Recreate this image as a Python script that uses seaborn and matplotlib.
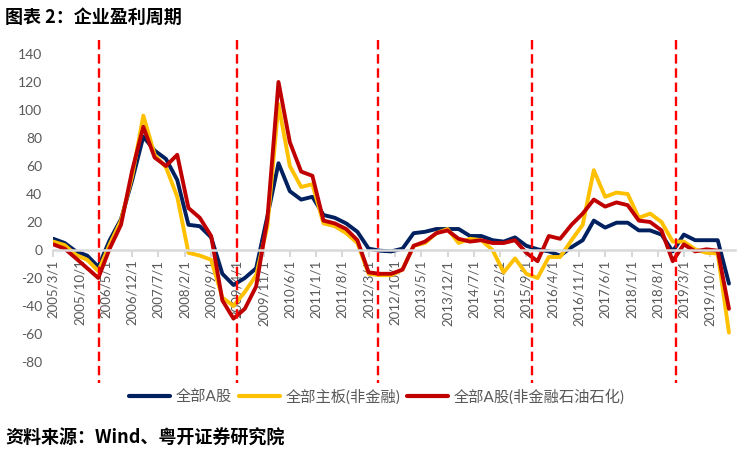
import pandas as pd
import matplotlib
matplotlib.use('Agg')
import matplotlib.pyplot as plt
import seaborn as sns

# 季度数据 2005Q1 - 2020Q1
dates = pd.date_range('2005-03-01', periods=61, freq='3MS')

all_a = [8, 5, -1, -4, -12, 7, 22, 50, 81, 71,
         65, 50, 18, 17, 9, -17, -25, -20, -13, 24,
         62, 42, 36, 38, 25, 23, 19, 13, 1, -0.5,
         -1, 1, 12, 13, 15, 15, 15, 10, 10, 7,
         6, 9, 3, 0.5, -1, -4, 2, 7, 21, 16,
         19.5, 19.5, 14, 14, 11, -1, 11, 7, 7, 7,
         -24]
main_board = [6, 3.5, -3.5, -7, -15, 4, 21, 53, 96, 68,
              59, 38, -2, -4, -7, -34, -40, -30, -18, 17,
              104, 60, 45, 47, 19, 17, 12, 5, -17, -18,
              -18, -14, 3, 5, 12, 15, 5, 8, 7, 0,
              -16, -6, -17, -20, -5, -5, 7, 18, 57, 38,
              41, 40, 23, 26, 20, 6, 6, 0.5, -2, -2.5,
              -59]
all_a_ex = [4, 1, -6, -13, -20, 1, 18, 57, 88, 66,
            60, 68, 30, 23, 10, -36, -49, -42, -26, 22,
            120, 77, 56, 53, 21, 19, 15, 7, -16, -17,
            -17, -14, 3, 6, 12, 14, 8, 6, 7, 5,
            5, 7, -2, -8, 10, 8, 18, 26, 36, 31,
            34, 32, 21, 20, 14, -8, 4, -1, 0.5, -0.5,
            -42]

series_names = ['全部A股', '全部主板(非金融)', '全部A股(非金融石油石化)']
colors = ['#002060', '#FFC000', '#C00000']

tick_labels = ['2005/3/1', '2005/10/1', '2006/5/1', '2006/12/1', '2007/7/1',
               '2008/2/1', '2008/9/1', '2009/4/1', '2009/11/1', '2010/6/1',
               '2011/1/1', '2011/8/1', '2012/3/1', '2012/10/1', '2013/5/1',
               '2013/12/1', '2014/7/1', '2015/2/1', '2015/9/1', '2016/4/1',
               '2016/11/1', '2017/6/1', '2018/1/1', '2018/8/1', '2019/3/1',
               '2019/10/1']
y_ticks = [-80, -60, -40, -20, 0, 20, 40, 60, 80, 100, 120, 140]

# 周期分界线
cycle_dates = ['2006-03-10', '2009-04-01', '2012-05-18', '2015-10-20', '2018-12-25']

df = pd.DataFrame({'date': dates, series_names[0]: all_a,
                   series_names[1]: main_board, series_names[2]: all_a_ex})
long = df.melt(id_vars='date', var_name='series', value_name='value')

sns.set_theme(style='white')
plt.rcParams['font.family'] = ['Lato', 'Noto Sans CJK SC', 'DejaVu Sans']
plt.rcParams['axes.unicode_minus'] = False

fig = plt.figure(figsize=(7.5, 4.57), dpi=100)
ax = fig.add_axes([53.3 / 750, 1 - 362 / 457, (735 - 53.3) / 750, (362 - 54) / 457])

sns.lineplot(data=long, x='date', y='value', hue='series', hue_order=series_names,
             palette=colors, linewidth=2.8, ax=ax, legend=False)
handles = list(ax.get_lines()[:3])

for d in pd.to_datetime(cycle_dates):
    ax.plot([d, d], [150, -95], color='#FF0000', lw=1.7, ls=(0, (4, 2)),
            clip_on=False, zorder=5)

ax.set_xlim(pd.Timestamp('2005-03-01'), pd.Timestamp('2020-04-19'))
ax.set_ylim(-80, 140)
ax.set_xticks(pd.to_datetime(tick_labels, format='%Y/%m/%d'))
ax.set_xticklabels(tick_labels)
ax.set_yticks(y_ticks)
ax.set_xlabel('')
ax.set_ylabel('')

for s in ['top', 'right', 'left']:
    ax.spines[s].set_visible(False)
ax.spines['bottom'].set_position(('data', 0))
ax.spines['bottom'].set_color('#D9D9D9')
ax.spines['bottom'].set_linewidth(1.8)
ax.tick_params(axis='x', direction='out', length=5, width=1.5, color='#D9D9D9',
               labelcolor='#595959', labelsize=9.5, pad=2, bottom=True,
               labelrotation=90)
for lbl in ax.get_xticklabels():
    lbl.set_ha('center')
    lbl.set_va('top')
ax.tick_params(axis='y', length=0, labelcolor='#595959', labelsize=10, pad=8)
ax.grid(False)

leg = fig.legend(handles, series_names, loc='center', bbox_to_anchor=(377 / 750, 1 - 397 / 457),
                 ncol=3, frameon=False, fontsize=11, handlelength=2.7,
                 handletextpad=0.35, columnspacing=0.45)
for t in leg.get_texts():
    t.set_color('#595959')
for h in leg.legend_handles:
    h.set_linewidth(3)

cjk = ['Noto Sans CJK SC', 'DejaVu Sans']
fig.text(5 / 750, 1 - 17 / 457, '图表 2：企业盈利周期', fontsize=13, fontweight='bold',
         va='center', ha='left', family=cjk, color='black')
fig.text(5 / 750, 1 - 438 / 457, '资料来源：Wind、粤开证券研究院', fontsize=13, fontweight='bold',
         va='center', ha='left', family=cjk, color='black')

fig.savefig('out.png', dpi=100)
